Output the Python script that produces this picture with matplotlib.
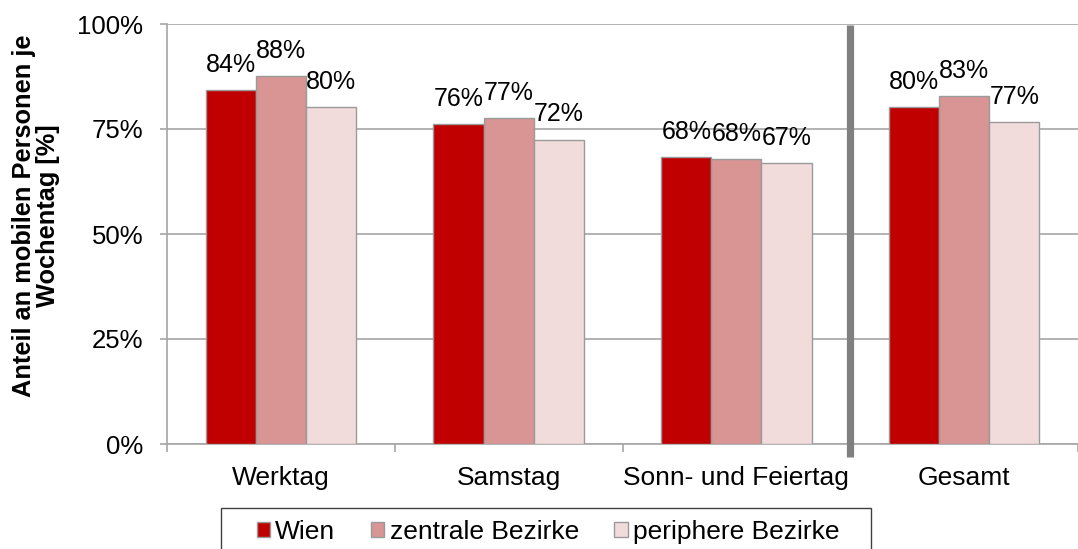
import matplotlib
matplotlib.use("Agg")
import matplotlib.pyplot as plt
import numpy as np
from matplotlib.patches import Patch, Rectangle

# data
categories = ["Werktag", "Samstag", "Sonn- und Feiertag", "Gesamt"]
series_names = ["Wien", "zentrale Bezirke", "periphere Bezirke"]
wien = [84.3, 76.2, 68.3, 80.3]
zentrale = [87.7, 77.7, 67.9, 82.9]
periphere = [80.3, 72.5, 66.9, 76.7]
labels_wien = ["84%", "76%", "68%", "80%"]
labels_zentrale = ["88%", "77%", "68%", "83%"]
labels_periphere = ["80%", "72%", "67%", "77%"]

colors = ["#C00000", "#D99594", "#F2DCDB"]
edge = "#9a9a9a"
grid_col = "#a6a6a6"

plt.rcParams["font.family"] = ["Liberation Sans", "DejaVu Sans"]

fig = plt.figure(figsize=(10.78, 5.49), dpi=100)
ax = fig.add_axes([167 / 1078, 105 / 549, (1078 - 167) / 1078, 420 / 549])

x = np.arange(len(categories))
w = 0.22
series = [(wien, labels_wien), (zentrale, labels_zentrale), (periphere, labels_periphere)]
for i, (vals, labs) in enumerate(series):
    pos = x + (i - 1) * w
    ax.bar(pos, vals, width=w, color=colors[i], edgecolor=edge, linewidth=1.0, zorder=3)
    for px, v, t in zip(pos, vals, labs):
        ax.annotate(t, (px, v), xytext=(0, 13), textcoords="offset points",
                    ha="center", va="baseline", fontsize=18, color="black", zorder=4)

ax.set_xlim(-0.5, 3.444)
ax.set_ylim(0, 100)
ax.set_yticks([0, 25, 50, 75, 100])
ax.set_yticklabels(["0%", "25%", "50%", "75%", "100%"], fontsize=18.5)
ax.yaxis.grid(True, color=grid_col, linewidth=1.2, zorder=0)
ax.set_axisbelow(True)

# category boundaries as ticks, labels in the middle
ax.set_xticks([-0.5, 0.5, 1.5, 2.5, 3.5])
ax.set_xticklabels([])
ax.set_xticks(x, minor=True)
ax.set_xticklabels(categories, minor=True, fontsize=19)
ax.tick_params(axis="x", which="major", length=6, color=grid_col, width=1.2)
ax.tick_params(axis="x", which="minor", length=0, pad=16)
ax.tick_params(axis="y", length=5, color=grid_col, width=1.2, pad=12)

for s in ["top", "right"]:
    ax.spines[s].set_visible(False)
for s in ["left", "bottom"]:
    ax.spines[s].set_color(grid_col)
    ax.spines[s].set_linewidth(1.2)

# separator before "Gesamt"
ax.plot([2.5, 2.5], [-3.1, 99.7], color="#808080", linewidth=5.2,
        solid_capstyle="butt", clip_on=False, zorder=5)

fig.text(36 / 1078, (549 - 216) / 549, "Anteil an mobilen Personen je\nWochentag [%]",
         rotation=90, ha="center", va="center", fontsize=18.3, fontweight="bold",
         multialignment="center", linespacing=1.0)

# legend box runs off the bottom edge, so draw the frame separately
fig.patches.append(Rectangle((221 / 1078, -0.05), (871 - 221) / 1078, 0.05 + (549 - 508) / 549,
                             transform=fig.transFigure, facecolor="white",
                             edgecolor="#404040", linewidth=1.0))
handles = [Patch(facecolor=c, edgecolor=edge, linewidth=1.0) for c in colors]
leg = fig.legend(handles, series_names, loc="upper left",
                 bbox_to_anchor=(245 / 1078, 1 - 508 / 549), ncol=3,
                 fontsize=19, frameon=False,
                 handlelength=0.5, handleheight=0.5, handletextpad=0.2,
                 columnspacing=1.35, borderpad=0.45, borderaxespad=0)

fig.savefig("out.png", dpi=100)
